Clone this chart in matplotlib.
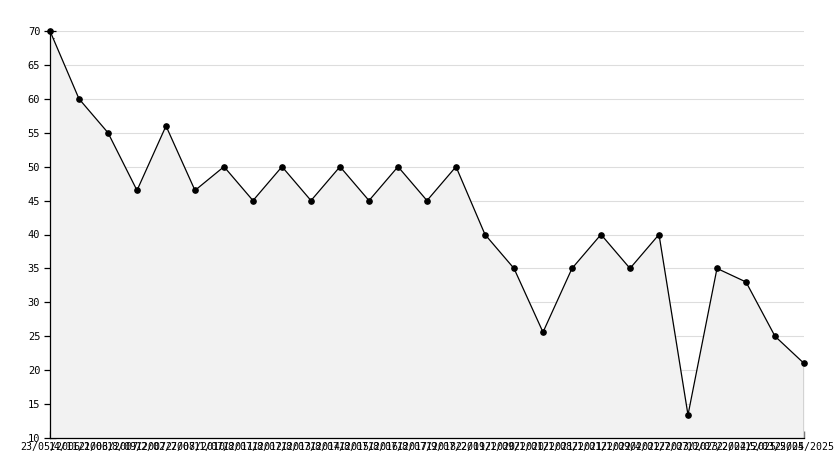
import matplotlib
matplotlib.use("Agg")
import matplotlib.pyplot as plt
from matplotlib.ticker import MultipleLocator

dates = ["23/05/2006", "14/11/2006", "21/03/2007", "18/09/2007", "12/02/2008",
         "27/07/2010", "11/07/2011", "18/07/2012", "18/07/2013", "18/07/2014",
         "18/07/2015", "18/07/2016", "18/07/2017", "18/07/2018", "19/07/2019",
         "22/01/2020", "21/09/2020", "21/01/2021", "21/08/2021", "21/01/2022",
         "21/09/2022", "04/01/2023", "27/07/2023", "10/07/2024", "22/02/2025",
         "15/03/2025", "25/04/2025"]
values = [70, 60, 55, 46.5, 56, 46.5, 50, 45, 50, 45, 50, 45, 50, 45, 50,
          40, 35, 25.6, 35, 40, 35, 40, 13.4, 35, 33, 25, 21]

x = list(range(len(values)))
ymin, ymax = 10, 70

fig = plt.figure(figsize=(8.34, 4.68), dpi=100)
ax = fig.add_axes([50/834, 1-438/468, 754/834, 407/468])

ax.fill_between(x, values, ymin, color="#f2f2f2", lw=0, zorder=1)
ax.plot(x, values, color="black", lw=0.9, marker="o", ms=3.8,
        mfc="black", mec="black", zorder=3, clip_on=False)
ax.vlines(x[-1], ymin, values[-1], color="black", lw=0.9, zorder=3)

ax.set_xlim(x[0], x[-1])
ax.set_ylim(ymin, ymax)
ax.yaxis.set_major_locator(MultipleLocator(5))
ax.yaxis.set_minor_locator(MultipleLocator(1))
ax.grid(axis="y", which="major", color="#dddddd", lw=0.8, zorder=0)
ax.set_axisbelow(True)

for s in ["top", "right"]:
    ax.spines[s].set_visible(False)
for s in ["left", "bottom"]:
    ax.spines[s].set_linewidth(0.9)
    ax.spines[s].set_zorder(4)

ax.set_xticks(x)
ax.set_xticklabels(dates, fontsize=7.2, family="DejaVu Sans Mono")
for lbl in ax.get_yticklabels():
    lbl.set_family("DejaVu Sans Mono")
ax.tick_params(axis="x", direction="in", length=5, width=0.9, pad=3)
ax.tick_params(axis="y", which="major", direction="inout", length=8, width=0.9, labelsize=7.5, pad=3)
ax.tick_params(axis="y", which="minor", direction="in", length=3, width=0.7)
for lbl in ax.get_yticklabels():
    lbl.set_family("DejaVu Sans Mono")

fig.savefig("out.png", dpi=100, facecolor="white")
